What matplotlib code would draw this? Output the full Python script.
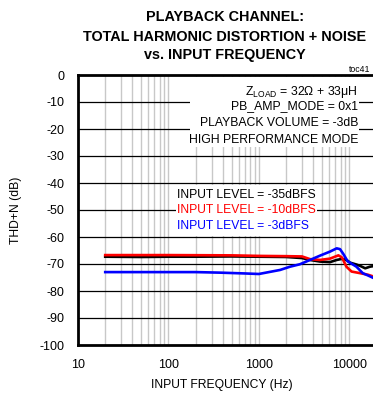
import matplotlib
matplotlib.use("Agg")
import matplotlib.pyplot as plt
from matplotlib import font_manager
from matplotlib.patches import Rectangle
from matplotlib.ticker import FixedLocator, NullFormatter, FixedFormatter

# ---------------- data ----------------
freq_black = [20, 50, 100, 200, 500, 1000, 2000, 3000, 3680, 4750, 6130, 7260, 8300, 9300, 10200, 12000, 13200, 15000, 16900, 20000]
thdn_black = [-67.3, -67.4, -67.3, -67.3, -67.2, -67.3, -67.4, -67.8, -68.5, -69.1, -69.3, -68.5, -68.1, -68.5, -69.5, -70.2, -70.7, -71.6, -71.0, -70.6]

freq_red = [20, 100, 500, 1000, 2000, 3000, 3680, 4750, 6130, 7580, 8300, 9300, 10600, 13200, 16200, 20000]
thdn_red = [-66.7, -66.7, -66.8, -67.0, -67.1, -67.2, -68.2, -68.5, -68.0, -66.8, -67.6, -71.0, -72.8, -73.4, -74.0, -75.0]

freq_blue = [20, 50, 100, 200, 370, 700, 1000, 1720, 2210, 2840, 3680, 4750, 6130, 7260, 7900, 8600, 9600, 12000, 14100, 16000, 20000]
thdn_blue = [-73.0, -73.0, -73.0, -73.0, -73.2, -73.5, -73.7, -72.2, -71.0, -70.1, -68.5, -66.9, -65.4, -64.2, -64.5, -66.3, -69.0, -71.0, -73.4, -74.2, -75.7]

x_ticks = [10, 100, 1000, 10000]
x_tick_labels = ["10", "100", "1000", "10000"]
y_ticks = [0, -10, -20, -30, -40, -50, -60, -70, -80, -90, -100]
y_tick_labels = ["0", "-10", "-20", "-30", "-40", "-50", "-60", "-70", "-80", "-90", "-100"]

title_lines = ["PLAYBACK CHANNEL:", "TOTAL HARMONIC DISTORTION + NOISE", "vs. INPUT FREQUENCY"]
cond_lines = [r"Z$_{\mathrm{LOAD}}$ = 32Ω + 33μH", "PB_AMP_MODE = 0x1", "PLAYBACK VOLUME = -3dB", "HIGH PERFORMANCE MODE"]
legend_lines = ["INPUT LEVEL = -35dBFS", "INPUT LEVEL = -10dBFS", "INPUT LEVEL = -3dBFS"]
legend_colors = ["black", "#ff0000", "#0000ff"]

# ---------------- fonts ----------------
names = {f.name for f in font_manager.fontManager.ttflist}
base_font = "Liberation Sans" if "Liberation Sans" in names else "DejaVu Sans"
plt.rcParams["font.family"] = [base_font, "DejaVu Sans"]
plt.rcParams["mathtext.fontset"] = "custom"
plt.rcParams["mathtext.rm"] = base_font
plt.rcParams["mathtext.it"] = base_font

W, H = 373, 395
fig = plt.figure(figsize=(W / 100, H / 100), dpi=100)

def fx(px):
    return px / W

def fy(py):
    return 1 - py / H

ax = fig.add_axes([fx(78), fy(345), fx(376.5) - fx(78), fy(75) - fy(345)])
ax.set_xscale("log")
ax.set_xlim(10, 20000)
ax.set_ylim(-100, 0)

# grid
minor = [m * 10 ** d for d in range(1, 5) for m in range(1, 10) if 10 < m * 10 ** d <= 20000]
for v in minor:
    ax.axvline(v, color="#c8c8c8", lw=1.0, zorder=1)
for v in y_ticks[1:-1]:
    ax.axhline(v, color="black", lw=0.9, zorder=2)

# white backgrounds behind the text blocks
ax.add_patch(Rectangle((fx(190), fy(147)), fx(359) - fx(190), fy(77) - fy(147),
                       transform=fig.transFigure, facecolor="white", edgecolor="none", zorder=3))
ax.add_patch(Rectangle((fx(176), fy(236)), fx(317) - fx(176), fy(185) - fy(236),
                       transform=fig.transFigure, facecolor="white", edgecolor="none", zorder=3))

ax.plot(freq_black, thdn_black, color="black", lw=1.9, zorder=4)
ax.plot(freq_red, thdn_red, color="#ff0000", lw=1.9, zorder=5)
ax.plot(freq_blue, thdn_blue, color="#0000ff", lw=1.9, zorder=6)

ax.xaxis.set_major_locator(FixedLocator(x_ticks))
ax.xaxis.set_major_formatter(FixedFormatter(x_tick_labels))
ax.xaxis.set_minor_formatter(NullFormatter())
ax.xaxis.set_minor_locator(FixedLocator([]))
ax.yaxis.set_major_locator(FixedLocator(y_ticks))
ax.yaxis.set_major_formatter(FixedFormatter(y_tick_labels))
ax.tick_params(axis="both", length=0, labelsize=9)
ax.tick_params(axis="y", pad=10)
ax.tick_params(axis="x", pad=10)
for s in ["left", "bottom", "top"]:
    ax.spines[s].set_linewidth(2.0)
ax.spines["right"].set_visible(False)

ax.set_ylabel("THD+N (dB)", fontsize=8.7, labelpad=12)
fig.text(fx(222), fy(385), "INPUT FREQUENCY (Hz)", ha="center", va="center", fontsize=8.7)

# condition text block
cond_y = [91.5, 106.5, 123.5, 140]
for t, yy in zip(cond_lines, cond_y):
    fig.text(fx(358), fy(yy), t, ha="right", va="center", fontsize=8.8, zorder=10)

# legend text block
leg_y = [195, 210.5, 226.5]
for t, c, yy in zip(legend_lines, legend_colors, leg_y):
    fig.text(fx(177), fy(yy), t, ha="left", va="center", fontsize=8.7, color=c, zorder=10)

# title
title_y = [17, 37, 55.5]
for t, yy in zip(title_lines, title_y):
    fig.text(fx(225), fy(yy), t, ha="center", va="center", fontsize=10.4, fontweight="bold")

fig.text(fx(370), fy(70), "toc41", ha="right", va="center", fontsize=6.3)

fig.savefig("out.png", dpi=100)
